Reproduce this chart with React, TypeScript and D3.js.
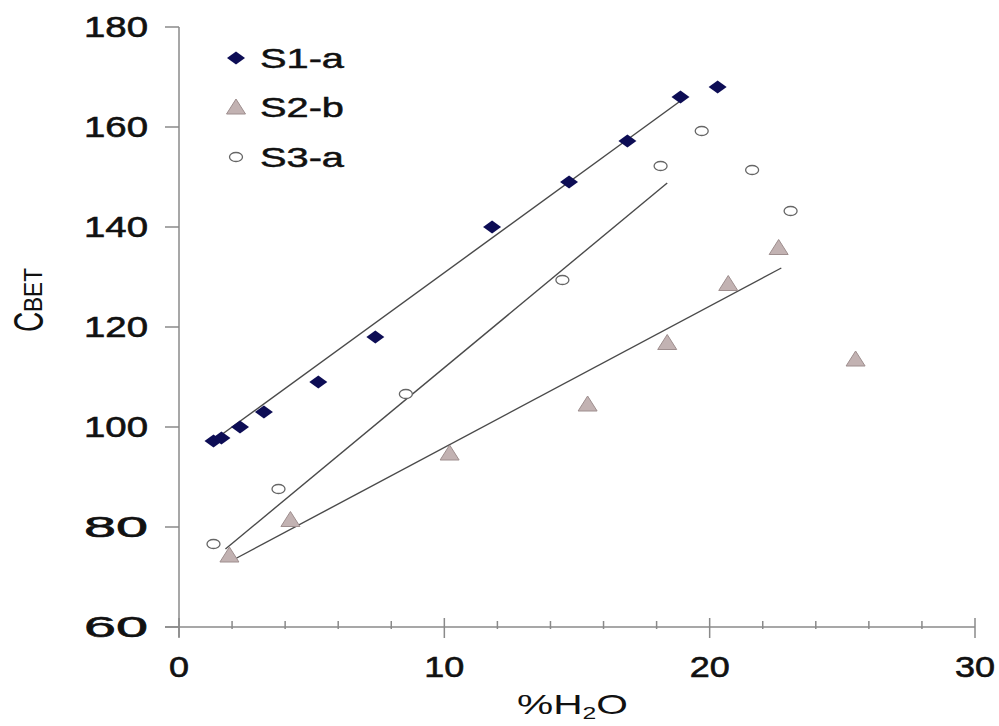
import React from "react";
import * as d3 from "d3";

const s1x = [1.3, 1.6, 2.3, 3.2, 5.25, 7.4, 11.8, 14.7, 16.9, 18.9, 20.3];
const s1y = [97.2, 97.8, 100, 103, 109, 118, 140, 149, 157.2, 166, 168];
const s2x = [1.9, 4.2, 10.2, 15.4, 18.4, 20.7, 22.6, 25.5];
const s2y = [74.4, 81.5, 94.8, 104.6, 116.9, 128.7, 135.9, 113.6];
const s3x = [1.3, 3.75, 8.55, 14.45, 18.15, 19.7, 21.6, 23.05];
const s3y = [76.6, 87.6, 106.6, 129.4, 152.2, 159.2, 151.4, 143.2];
const trend1 = [[1.3, 97.3], [19.0, 165.6]];
const trend2 = [[2.0, 73.3], [22.7, 131.8]];
const trend3 = [[1.75, 75.6], [18.4, 148.8]];
const xTicksMajor = [0, 10, 20, 30];
const xTicksMinor = [2, 4, 6, 8, 12, 14, 16, 18, 22, 24, 26, 28];
const yTicks = [60, 80, 100, 120, 140, 160, 180];
const legendLabels = ["S1-a", "S2-b", "S3-a"];

export default function App() {
  const x = d3.scaleLinear().domain([0, 30]).range([179, 975]);
  const y = d3.scaleLinear().domain([60, 180]).range([627, 27]);
  const line = d3.line<number[]>().x((d) => x(d[0])).y((d) => y(d[1]));
  const font = "'Liberation Sans', Arial, sans-serif";
  const axisColor = "#8a8a8a";
  const lineColor = "#4a4a4a";
  const navy = "#0d0d55";
  const triFill = "#c2b2b2";
  const triStroke = "#9e8e8e";
  const txt = "#111";

  const diamond = (cx: number, cy: number, key: any) => (
    <path key={key} d={`M${cx - 9},${cy} L${cx},${cy - 6.5} L${cx + 9},${cy} L${cx},${cy + 6.5} Z`} fill={navy} />
  );
  const triangle = (cx: number, cy: number, key: any) => (
    <path key={key} d={`M${cx - 9.5},${cy + 7} L${cx},${cy - 8} L${cx + 9.5},${cy + 7} Z`} fill={triFill} stroke={triStroke} strokeWidth={1} />
  );
  const circle = (cx: number, cy: number, key: any) => (
    <ellipse key={key} cx={cx} cy={cy} rx={6.5} ry={4.5} fill="#fff" stroke="#666" strokeWidth={1.3} />
  );

  const legendY = [58, 107, 157];
  const legendMarkers = [diamond, triangle, circle];

  return (
    <svg width={999} height={726} style={{ position: "absolute", left: 0, top: 0, background: "#fff" }} fontFamily={font}>
      {/* axes */}
      <line x1={x(0)} x2={x(0)} y1={y(180)} y2={637} stroke={axisColor} strokeWidth={1.5} />
      <line x1={165} x2={x(30)} y1={y(60)} y2={y(60)} stroke={axisColor} strokeWidth={1.5} />
      {yTicks.map((t) => (
        <g key={"yt" + t}>
          <line x1={165} x2={x(0)} y1={y(t)} y2={y(t)} stroke={axisColor} strokeWidth={1.5} />
          <text x={148} y={y(t) + 10} textAnchor="end" fontSize={29} fill={txt} stroke={txt} strokeWidth={0.6} textLength={64} lengthAdjust="spacingAndGlyphs">
            {t}
          </text>
        </g>
      ))}
      {xTicksMinor.map((t) => (
        <line key={"xm" + t} x1={x(t)} x2={x(t)} y1={621} y2={629} stroke={axisColor} strokeWidth={1.5} />
      ))}
      {xTicksMajor.map((t) => (
        <g key={"xt" + t}>
          <line x1={x(t)} x2={x(t)} y1={618} y2={638} stroke={axisColor} strokeWidth={1.5} />
          <text x={x(t)} y={677} textAnchor="middle" fontSize={29} fill={txt} stroke={txt} strokeWidth={0.6} textLength={t === 0 ? 20 : 40} lengthAdjust="spacingAndGlyphs">
            {t}
          </text>
        </g>
      ))}
      {/* axis titles */}
      <text x={517} y={714} fontSize={28} fill={txt} textLength={111} lengthAdjust="spacingAndGlyphs">
        %H<tspan fontSize={17} dy={5}>2</tspan><tspan dy={-5}>O</tspan>
      </text>
      <g transform="translate(43,332) scale(1.55,1) rotate(-90)">
        <text x={0} y={0} fontSize={28} fill={txt}>C</text>
      </g>
      <g transform="translate(42,312) scale(1.2,1) rotate(-90)">
        <text x={0} y={0} fontSize={22} fill={txt} textLength={44} lengthAdjust="spacingAndGlyphs">BET</text>
      </g>
      {/* trend lines */}
      {[trend1, trend2, trend3].map((tr, i) => (
        <path key={"tr" + i} d={line(tr) || ""} stroke={lineColor} strokeWidth={1.4} fill="none" />
      ))}
      {/* points */}
      {s3x.map((v, i) => circle(x(v), y(s3y[i]), "c" + i))}
      {s2x.map((v, i) => triangle(x(v), y(s2y[i]), "t" + i))}
      {s1x.map((v, i) => diamond(x(v), y(s1y[i]), "d" + i))}
      {/* legend */}
      {legendLabels.map((lab, i) => (
        <g key={"lg" + i}>
          {legendMarkers[i](236, legendY[i], "lm" + i)}
          <text x={260} y={legendY[i] + 10} fontSize={28} fill={txt} stroke={txt} strokeWidth={0.5} textLength={84} lengthAdjust="spacingAndGlyphs">
            {lab}
          </text>
        </g>
      ))}
    </svg>
  );
}
